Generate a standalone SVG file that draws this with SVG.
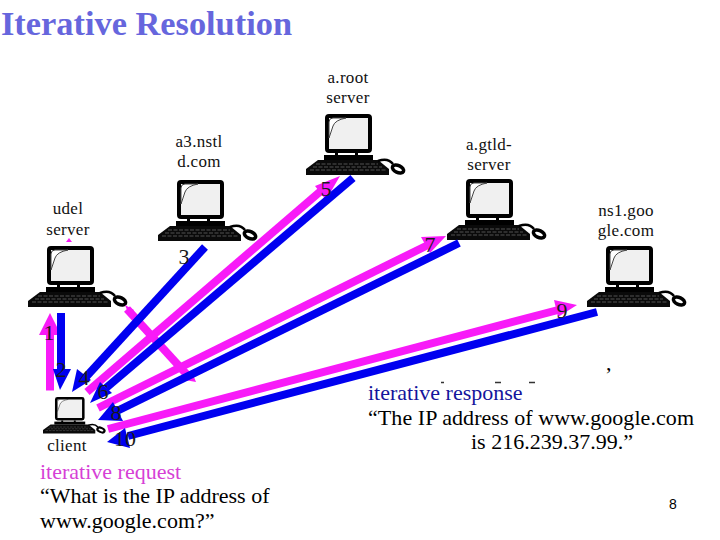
<svg xmlns="http://www.w3.org/2000/svg" width="720" height="540" viewBox="0 0 720 540">
<style>
text{font-family:"Liberation Serif","Times New Roman",serif;fill:#000}
.title{font-size:33px;font-weight:bold;fill:#6666dd}
.name{font-size:17px;text-anchor:middle;fill:#111;letter-spacing:.3px}
.num{font-size:22px;text-anchor:middle;fill:#1a1a1a}
.big{font-size:22px}
.m{stroke:#f81af8;stroke-width:8;fill:none}
.b{stroke:#0000f0;stroke-width:8;fill:none}
.mh{fill:#f81af8}
.bh{fill:#0000f0}
</style>
<defs>
<g id="pc">
<rect x="21" y="2" width="43" height="35" rx="2" fill="#f0f0f0" stroke="#000" stroke-width="4"/>
<path d="M23 24V8Q23 4 27 4H40Q29 6 27 12Z" fill="#fff" stroke="#444" stroke-width="1"/>
<path d="M29 39h3v3h-3zM49 39h3v3h-3z" fill="#000"/>
<rect x="18" y="41" width="49" height="5" fill="#000"/>
<path d="M12 46H72L83 55V61H0V55Z" fill="#0a0a0a"/>
<path d="M10 50H72M7 53H76M4 56H80" stroke="#666" stroke-width=".8" stroke-dasharray="4 1.500" fill="none"/>
<path d="M72 47C80 44 84 46 87 50" stroke="#000" stroke-width="2.500" fill="none"/>
<ellipse cx="92" cy="55" rx="6" ry="3.500" transform="rotate(25 92 55)" fill="#fff" stroke="#000" stroke-width="3.500"/>
</g>
</defs>
<text class="title" x="1" y="35" textLength="291" lengthAdjust="spacingAndGlyphs">Iterative Resolution</text>
<g id="a-root"><text class="name" x="348" y="83">a.root</text><text class="name" x="348" y="103">server</text><use href="#pc" x="306" y="114"/></g>
<g id="a3-nstl"><text class="name" x="199" y="147">a3.nstl</text><text class="name" x="199" y="167">d.com</text><use href="#pc" x="158" y="180"/></g>
<g id="a-gtld"><text class="name" x="489" y="150">a.gtld-</text><text class="name" x="489" y="170">server</text><use href="#pc" x="447" y="179"/></g>
<g id="udel"><text class="name" x="68" y="214">udel</text><text class="name" x="68" y="235">server</text><use href="#pc" x="28" y="246"/></g>
<g id="ns1-google"><text class="name" x="626" y="216">ns1.goo</text><text class="name" x="626" y="236">gle.com</text><use href="#pc" x="587" y="246"/></g>
<g id="client"><use href="#pc" transform="translate(43 397) scale(.63 .6)"/><text class="name" x="67" y="451">client</text></g>
<g id="connectors">
<path class="mh" d="M66 242H72L69 238Z"/>
<path class="m" d="M127 309L190 378"/>
<path class="mh" d="M125 305L134 310L129 315Z"/>
<path class="mh" d="M196 382L185 380L192 372Z"/>
<path class="m" d="M50 390.500V334"/><path class="mh" d="M50 313L61 335H39Z"/>
<path class="b" d="M61 313V372"/><path class="bh" d="M60 390L53 369H71Z"/>
<path class="b" d="M205 247L85 378"/><path class="bh" d="M72 392L77 369L91 380Z"/>
<path class="m" d="M87 392L322 190"/><path class="mh" d="M340 176L315 186L326 200Z"/>
<path class="b" d="M353 178L106 388"/><path class="bh" d="M90 403L100 382L112 393Z"/>
<path class="m" d="M98 408L428 245"/><path class="mh" d="M446 236L421 237L430 253Z"/>
<path class="b" d="M459 243L117 411"/><path class="bh" d="M98 420L113 402L123 421Z"/>
<path class="m" d="M108 429L558 310"/><path class="mh" d="M577 305L554 300L558 317Z"/>
<path class="b" d="M597 312L128 436"/><path class="bh" d="M107 442L125 428L130 448Z"/>
</g>
<g id="labels">
<text class="num" x="49" y="340">1</text><text class="num" x="61" y="377">2</text><text class="num" x="184" y="264">3</text><text class="num" x="84" y="385">4</text><text class="num" x="326" y="196">5</text><text class="num" x="103" y="399">6</text><text class="num" x="430" y="252">7</text><text class="num" x="116" y="420">8</text><text class="num" x="562" y="318">9</text><text class="num" x="125" y="446">10</text>
</g>
<g id="notes">
<text class="big" x="40" y="479" style="fill:#d63fd6">iterative request</text>
<text class="big" x="40" y="503">“What is the IP address of</text>
<text class="big" x="40" y="528">www.google.com?”</text>
<text class="big" x="606" y="370">,</text>
<path d="M441 382.500h3M495 382.500h6M529 382.500h6" stroke="#333" stroke-width="1.500"/>
<text class="big" x="368" y="400" style="fill:#14149c">iterative response</text>
<text class="big" x="368" y="425" textLength="326">“The IP address of www.google.com</text>
<text class="big" x="471" y="449">is 216.239.37.99.”</text>
<text x="673" y="509" style="font-family:'Liberation Sans',Arial,sans-serif;font-size:14px;text-anchor:middle">8</text>
</g>
</svg>
